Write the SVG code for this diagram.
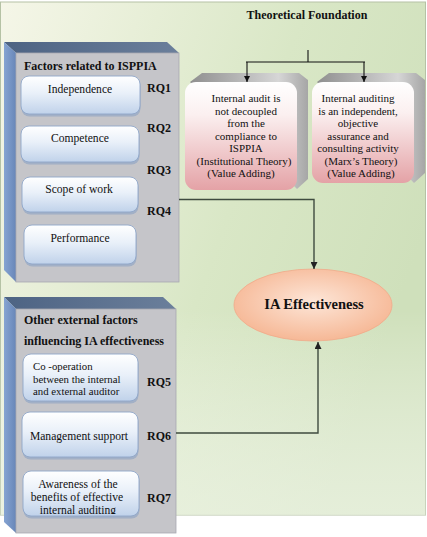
<svg xmlns="http://www.w3.org/2000/svg" width="427" height="537" viewBox="0 0 427 537" font-family="'Liberation Serif', 'Times New Roman', 'DejaVu Serif', serif">
<defs>
<linearGradient id="bg" x1="0" y1="0" x2="1" y2="0.45">
<stop offset="0" stop-color="#f5f6e8"/>
<stop offset="0.6" stop-color="#d9e7c6"/>
<stop offset="1" stop-color="#cfe0bb"/>
</linearGradient>
<linearGradient id="bgv" x1="0" y1="0" x2="0" y2="1">
<stop offset="0.6" stop-color="#ffffff" stop-opacity="0"/>
<stop offset="1" stop-color="#eef4e6" stop-opacity="0.7"/>
</linearGradient>
<linearGradient id="topface" x1="0" y1="0" x2="1" y2="0">
<stop offset="0" stop-color="#4d6383"/>
<stop offset="1" stop-color="#6b7f9b"/>
</linearGradient>
<linearGradient id="leftface" x1="0" y1="0" x2="1" y2="0">
<stop offset="0" stop-color="#86a4d2"/>
<stop offset="1" stop-color="#6886b8"/>
</linearGradient>
<linearGradient id="inner" x1="0" y1="0" x2="0" y2="1">
<stop offset="0" stop-color="#ffffff"/>
<stop offset="0.45" stop-color="#e9f0f9"/>
<stop offset="1" stop-color="#c0d2ea"/>
</linearGradient>
<linearGradient id="pink" x1="0" y1="0" x2="0" y2="1">
<stop offset="0" stop-color="#ffffff"/>
<stop offset="0.3" stop-color="#fbf0f0"/>
<stop offset="1" stop-color="#e4a2a6"/>
</linearGradient>
<linearGradient id="gray3d" x1="0" y1="0" x2="1" y2="0">
<stop offset="0" stop-color="#8f8f8f"/>
<stop offset="0.75" stop-color="#d6d6d6"/>
<stop offset="1" stop-color="#a6a6a6"/>
</linearGradient>
<radialGradient id="ell" cx="0.5" cy="0.45" r="0.55">
<stop offset="0" stop-color="#fde6d8"/>
<stop offset="1" stop-color="#f6b896"/>
</radialGradient>
<marker id="arr" viewBox="0 0 10 10" refX="10" refY="5" markerWidth="6" markerHeight="6" orient="auto" markerUnits="userSpaceOnUse">
<path d="M0,0 L10,5 L0,10 z" fill="#111"/>
</marker>
<marker id="arrg" viewBox="0 0 10 10" refX="10" refY="5" markerWidth="7" markerHeight="7" orient="auto" markerUnits="userSpaceOnUse">
<path d="M0,0 L10,5 L0,10 z" fill="#222"/>
</marker>
<clipPath id="clipAw"><rect x="20" y="468" width="122" height="46"/></clipPath>
</defs>
<style>
text{font-family:"Liberation Serif","Times New Roman","DejaVu Serif",serif}
.t{fill:#111}
.b{font-weight:bold}
.front{fill:#c5c5c9;stroke:#a9a9b1;stroke-width:0.8}
.ib{fill:url(#inner);stroke:#8ea6c8;stroke-width:0.9}
.ibs{fill:#8aa2c4;opacity:0.6}
.rq{font-weight:bold;font-size:12px;fill:#111}
.it{font-size:11.6px;fill:#111;text-anchor:middle}
.pt{font-size:11px;fill:#111;text-anchor:middle}
.conn{fill:none;stroke:#3f4b3f;stroke-width:1.4}
.tree{fill:none;stroke:#111;stroke-width:1.1}
</style>

<rect x="0.5" y="2" width="425" height="513" fill="url(#bg)" stroke="#b5c2a5" stroke-width="1"/>
<rect x="0.5" y="2" width="425" height="513" fill="url(#bgv)"/>

<text class="t b" x="307" y="19" font-size="12" text-anchor="middle">Theoretical Foundation</text>

<g id="factors-isppia">
<polygon points="4,42 167,42 179,53 16,53" fill="url(#topface)"/>
<polygon points="4,42 16,53 16,282 4,270" fill="url(#leftface)"/>
<rect class="front" x="16" y="53" width="163" height="229"/>
<text class="t b" x="24" y="70" font-size="12">Factors related to ISPPIA</text>
<g id="independence">
<rect class="ibs" x="21.5" y="78" width="119" height="38.5" rx="8"/>
<rect class="ib" x="21" y="76" width="119" height="38" rx="8"/>
<text class="it" x="80" y="93">Independence</text>
</g>
<g id="competence">
<rect class="ibs" x="21.5" y="128" width="118" height="36.5" rx="8"/>
<rect class="ib" x="21" y="126" width="118" height="36" rx="8"/>
<text class="it" x="80" y="142">Competence</text>
</g>
<g id="scope">
<rect class="ibs" x="22.5" y="179" width="116" height="35.5" rx="8"/>
<rect class="ib" x="22" y="177" width="116" height="35" rx="8"/>
<text class="it" x="79" y="193">Scope of work</text>
</g>
<g id="performance">
<rect class="ibs" x="24.5" y="227" width="112" height="39.5" rx="8"/>
<rect class="ib" x="24" y="225" width="112" height="39" rx="8"/>
<text class="it" x="80" y="242">Performance</text>
</g>
<text class="rq" x="147" y="92">RQ1</text>
<text class="rq" x="147" y="132">RQ2</text>
<text class="rq" x="147" y="174">RQ3</text>
<text class="rq" x="147" y="215">RQ4</text>
</g>

<g id="external-factors">
<polygon points="4,297 163,297 176,309 16,309" fill="url(#topface)"/>
<polygon points="4,297 16,309 16,533 4,522" fill="url(#leftface)"/>
<rect class="front" x="16" y="309" width="160" height="224"/>
<text class="t b" x="24" y="324" font-size="12">Other external factors</text>
<text class="t b" x="24" y="345" font-size="12">influencing IA effectiveness</text>
<g id="cooperation">
<rect class="ibs" x="23.5" y="356" width="115" height="47.5" rx="8"/>
<rect class="ib" x="23" y="354" width="115" height="47" rx="8"/>
<text class="t" x="33" y="370" font-size="10.8">Co -operation</text>
<text class="t" x="33" y="382.5" font-size="10.8">between the internal</text>
<text class="t" x="33" y="395" font-size="10.8">and external auditor</text>
</g>
<g id="management">
<rect class="ibs" x="22.5" y="414" width="116" height="45.5" rx="8"/>
<rect class="ib" x="22" y="412" width="116" height="45" rx="8"/>
<text class="it" x="79" y="440" font-size="10.6">Management support</text>
</g>
<g id="awareness">
<rect class="ibs" x="23.5" y="473" width="116" height="45.5" rx="8"/>
<rect class="ib" x="23" y="471" width="116" height="45" rx="8"/>
<text class="it" x="78" y="488" font-size="10.8">Awareness of the</text>
<text class="it" x="77" y="501" font-size="10.8">benefits of effective</text>
<text class="it" x="78" y="514" font-size="10.8" clip-path="url(#clipAw)">internal auditing</text>
</g>
<text class="rq" x="147" y="386">RQ5</text>
<text class="rq" x="147" y="440">RQ6</text>
<text class="rq" x="147" y="502">RQ7</text>
</g>

<g id="theory-institutional">
<path d="M190,82 L202,73 L299,73 L308,80 L308,179 L297,189 Z" fill="url(#gray3d)"/>
<rect x="185" y="82" width="112" height="108" rx="11" fill="url(#pink)"/>
<text class="pt" x="246" y="102">Internal audit is</text>
<text class="pt" x="246" y="114.5">not decoupled</text>
<text class="pt" x="246" y="127">from the</text>
<text class="pt" x="246" y="139.5">compliance to</text>
<text class="pt" x="246" y="152">ISPPIA</text>
<text class="pt" x="244" y="164.5">(Institutional Theory)</text>
<text class="pt" x="241" y="177">(Value Adding)</text>
</g>

<g id="theory-marx">
<path d="M317,82 L329,73 L416,73 L425,80 L425,173 L414,183 Z" fill="url(#gray3d)"/>
<rect x="312" y="82" width="102" height="101" rx="11" fill="url(#pink)"/>
<text class="pt" x="358" y="102">Internal auditing</text>
<text class="pt" x="358" y="114.5">is an independent,</text>
<text class="pt" x="358" y="127">objective</text>
<text class="pt" x="358" y="139.5">assurance and</text>
<text class="pt" x="358" y="152">consulting activity</text>
<text class="pt" x="361" y="164.5">(Marx’s Theory)</text>
<text class="pt" x="361" y="177">(Value Adding)</text>
</g>

<g id="ia-effectiveness">
<ellipse cx="313" cy="305" rx="79" ry="36" fill="url(#ell)" stroke="#f1a989" stroke-width="0.8"/>
<text class="t b" x="314" y="308.5" font-size="14.5" text-anchor="middle">IA Effectiveness</text>
</g>

<g id="connectors">
<path class="tree" d="M308,50 V62"/>
<path class="tree" d="M246,62 H365"/>
<path class="tree" d="M247,62 V82" marker-end="url(#arr)"/>
<path class="tree" d="M364,62 V82" marker-end="url(#arr)"/>
<path class="conn" d="M179,199.5 H314 V269" marker-end="url(#arrg)"/>
<path class="conn" d="M176,433 H318 V342" marker-end="url(#arrg)"/>
</g>
</svg>
